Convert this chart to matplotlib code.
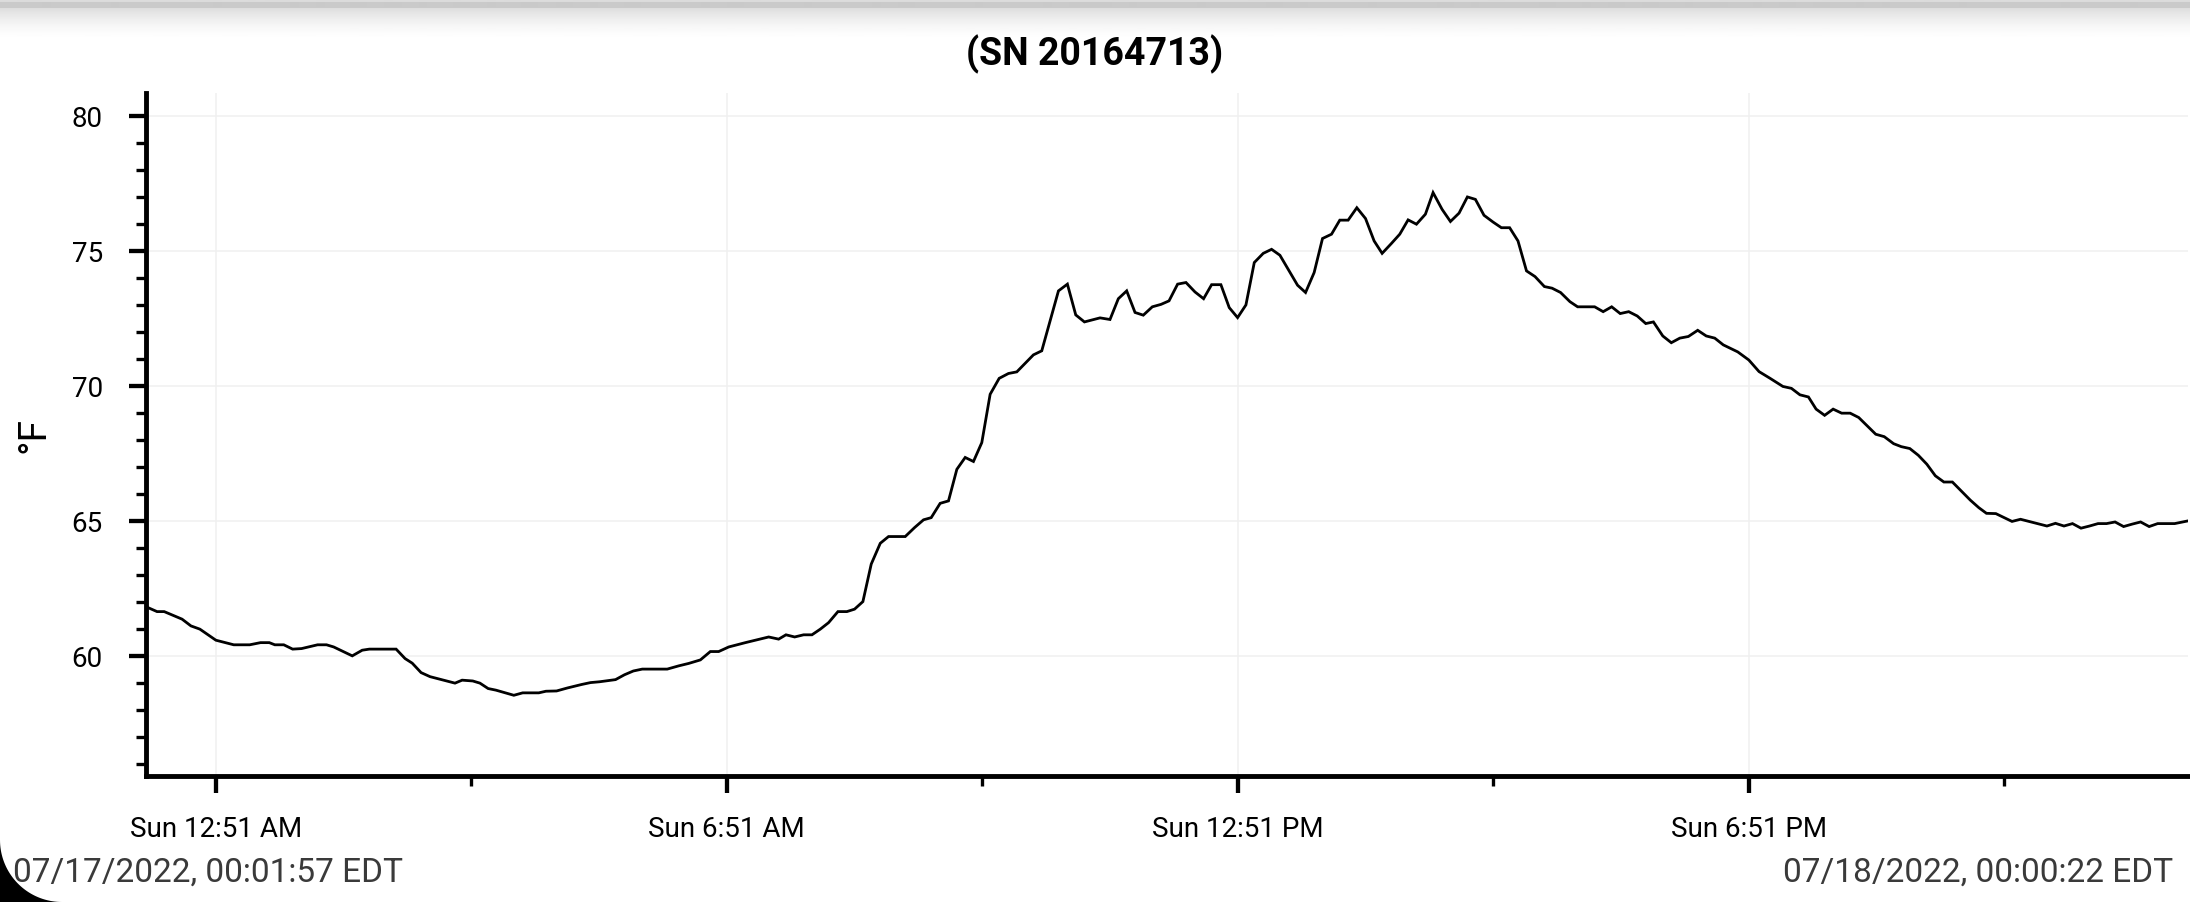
import matplotlib

matplotlib.use("Agg")
import matplotlib.dates as mdates
import matplotlib.pyplot as plt
import numpy as np
import pandas as pd
from matplotlib.patches import Polygon
from matplotlib.ticker import MultipleLocator

DAY = "2022-07-17"

# logger readings: hours after midnight (Sun 07/17/2022) and temperature in °F
hours = [
    0.0325, 0.162, 0.246, 0.456, 0.56, 0.665, 0.853, 1.063, 1.25, 1.377,
    1.48, 1.545, 1.65, 1.754, 1.859, 2.047, 2.152, 2.236, 2.454, 2.571,
    2.655, 2.969, 3.074, 3.158, 3.262, 3.367, 3.66, 3.744, 3.869, 3.953,
    4.049, 4.141, 4.351, 4.455, 4.644, 4.728, 4.853, 4.979, 5.147, 5.251,
    5.356, 5.545, 5.65, 5.754, 5.859, 6.152, 6.287, 6.404, 6.541, 6.658,
    6.756, 6.874, 7.069, 7.343, 7.46, 7.546, 7.648, 7.753, 7.851, 7.949,
    8.046, 8.156, 8.261, 8.351, 8.449, 8.547, 8.653, 8.75, 8.946, 9.055,
    9.161, 9.251, 9.356, 9.454, 9.552, 9.65, 9.747, 9.845, 9.943, 10.049,
    10.158, 10.256, 10.451, 10.549, 10.745, 10.85, 10.948, 11.05, 11.233, 11.35,
    11.448, 11.546, 11.644, 11.741, 11.847, 11.949, 12.043, 12.144, 12.242, 12.348,
    12.449, 12.543, 12.652, 12.75, 12.848, 12.946, 13.044, 13.149, 13.247, 13.345,
    13.552, 13.646, 13.747, 13.845, 13.951, 14.048, 14.146, 14.248, 14.35, 14.451,
    14.545, 14.655, 14.752, 14.85, 14.948, 15.053, 15.143, 15.249, 15.347, 15.448,
    15.546, 15.64, 15.741, 15.847, 15.945, 16.042, 16.14, 16.24, 16.34, 16.45,
    16.54, 16.64, 16.75, 16.84, 17.04, 17.14, 17.24, 17.34, 17.44, 17.54,
    17.64, 17.73, 17.84, 17.94, 18.04, 18.14, 18.25, 18.35, 18.45, 18.55,
    18.72, 18.85, 18.97, 19.1, 19.25, 19.35, 19.45, 19.55, 19.64, 19.74,
    19.84, 19.94, 20.04, 20.14, 20.34, 20.44, 20.55, 20.64, 20.74, 20.84,
    20.94, 21.04, 21.14, 21.24, 21.35, 21.45, 21.55, 21.64, 21.75, 21.94,
    22.04, 22.14, 22.35, 22.45, 22.55, 22.65, 22.75, 22.85, 22.95, 23.05,
    23.15, 23.25, 23.35, 23.45, 23.55, 23.65, 23.85, 24.006,
]
temps_f = [
    61.82, 61.64, 61.64, 61.36, 61.11, 60.99, 60.58, 60.41, 60.41, 60.49,
    60.49, 60.41, 60.41, 60.25, 60.27, 60.41, 60.41, 60.33, 60.0, 60.21,
    60.25, 60.25, 59.9, 59.73, 59.38, 59.23, 58.99, 59.1, 59.07, 58.99,
    58.79, 58.73, 58.54, 58.63, 58.63, 58.69, 58.7, 58.81, 58.94, 59.01,
    59.04, 59.12, 59.3, 59.44, 59.51, 59.51, 59.63, 59.72, 59.85, 60.16,
    60.16, 60.33, 60.49, 60.7, 60.62, 60.78, 60.7, 60.78, 60.78, 60.99,
    61.23, 61.64, 61.64, 61.73, 62.01, 63.4, 64.17, 64.42, 64.42, 64.75,
    65.04, 65.12, 65.65, 65.74, 66.91, 67.35, 67.2, 67.9, 69.69, 70.28,
    70.46, 70.52, 71.15, 71.3, 73.52, 73.77, 72.63, 72.37, 72.52, 72.46,
    73.23, 73.52, 72.72, 72.62, 72.93, 73.02, 73.15, 73.77, 73.83, 73.48,
    73.23, 73.75, 73.75, 72.9, 72.53, 73.0, 74.57, 74.91, 75.06, 74.84,
    73.73, 73.46, 74.2, 75.46, 75.62, 76.14, 76.14, 76.6, 76.2, 75.37,
    74.91, 75.28, 75.62, 76.15, 75.99, 76.36, 77.16, 76.54, 76.09, 76.4,
    77.0, 76.91, 76.32, 76.07, 75.86, 75.86, 75.37, 74.26, 74.05, 73.68,
    73.62, 73.46, 73.12, 72.93, 72.93, 72.75, 72.93, 72.68, 72.75, 72.59,
    72.31, 72.37, 71.85, 71.6, 71.77, 71.83, 72.06, 71.85, 71.77, 71.52,
    71.26, 70.96, 70.53, 70.28, 69.98, 69.91, 69.67, 69.59, 69.14, 68.91,
    69.14, 68.99, 68.99, 68.83, 68.21, 68.12, 67.86, 67.75, 67.68, 67.43,
    67.1, 66.67, 66.44, 66.44, 66.09, 65.77, 65.49, 65.28, 65.27, 64.98,
    65.06, 64.98, 64.81, 64.91, 64.81, 64.9, 64.73, 64.81, 64.9, 64.9,
    64.96, 64.79, 64.88, 64.96, 64.79, 64.9, 64.9, 65.0,
]

major_tick_times = ["00:51", "06:51", "12:51", "18:51"]
major_tick_labels = ["Sun 12:51 AM", "Sun 6:51 AM", "Sun 12:51 PM", "Sun 6:51 PM"]
minor_tick_times = ["03:51", "09:51", "15:51", "21:51"]

title = "(SN 20164713)"
y_label = "°F"
start_time = "2022-07-17 00:01:57"
end_time = "2022-07-18 00:00:22"
start_label = "07/17/2022, 00:01:57 EDT"
end_label = "07/18/2022, 00:00:22 EDT"

W, H = 2190, 903


def day_times(clock_list):
    return mdates.date2num(pd.to_datetime([f"{DAY} {t}" for t in clock_list]).to_pydatetime())


plt.rcParams["font.family"] = ["Roboto", "DejaVu Sans"]

fig = plt.figure(figsize=(W / 100, H / 100), dpi=100)
ax = fig.add_axes([146 / W, 1 - 777 / H, 2042 / W, (777 - 94) / H])

times = pd.Timestamp(DAY) + pd.to_timedelta(hours, unit="h")
ax.plot(times.to_pydatetime(), temps_f, color="black", lw=2.0, solid_joinstyle="miter")

ax.set_xlim(pd.Timestamp(start_time).to_pydatetime(), pd.Timestamp(end_time).to_pydatetime())
ax.set_ylim(55.55, 80.85)

ax.set_xticks(day_times(major_tick_times))
ax.set_xticklabels(major_tick_labels)
ax.set_xticks(day_times(minor_tick_times), minor=True)
ax.yaxis.set_major_locator(MultipleLocator(5))
ax.yaxis.set_minor_locator(MultipleLocator(1))

ax.grid(True, which="major", color="#f0f0f0", lw=1.1)
ax.set_axisbelow(True)

for side in ("top", "right"):
    ax.spines[side].set_visible(False)
for side in ("left", "bottom"):
    ax.spines[side].set_linewidth(3.5)
    ax.spines[side].set_color("black")

ax.tick_params(which="major", length=12, width=3.1, labelsize=20, colors="black")
ax.tick_params(which="minor", length=7, width=2.4)
ax.tick_params(axis="x", which="major", pad=16)
ax.tick_params(axis="y", which="major", pad=19)

ax.set_ylabel(y_label, fontsize=28)
ax.yaxis.set_label_coords(-0.046, 0.5)

fig.text(0.5, 1 - 65 / H, title, ha="center", va="baseline", fontsize=27, fontweight="bold")
fig.text(13 / W, 21 / H, start_label, ha="left", va="baseline", fontsize=24, color="#3a3a3a")
fig.text(2173 / W, 21 / H, end_label, ha="right", va="baseline", fontsize=24, color="#3a3a3a")

# shadow band along the top edge of the screenshot
gax = fig.add_axes([0, 1 - 42 / H, 1, 42 / H], zorder=-1)
fade = 1 - 0.13 * (1 - np.linspace(0, 1, 33)) ** 1.6
shade = np.concatenate([np.full(3, 0.86), np.full(6, 0.79), fade])
gax.imshow(shade[:, None], cmap="gray", vmin=0, vmax=1, aspect="auto", interpolation="bilinear")
gax.axis("off")

# rounded screen corner, bottom left
r = 62
theta = np.linspace(np.pi, 1.5 * np.pi, 40)
corner = [(0, 0)] + [((r + r * np.cos(t)) / W, (r + r * np.sin(t)) / H) for t in theta]
fig.add_artist(Polygon(corner, closed=True, transform=fig.transFigure,
                       facecolor="black", edgecolor="none", zorder=10))

fig.savefig("out.png", dpi=100)
